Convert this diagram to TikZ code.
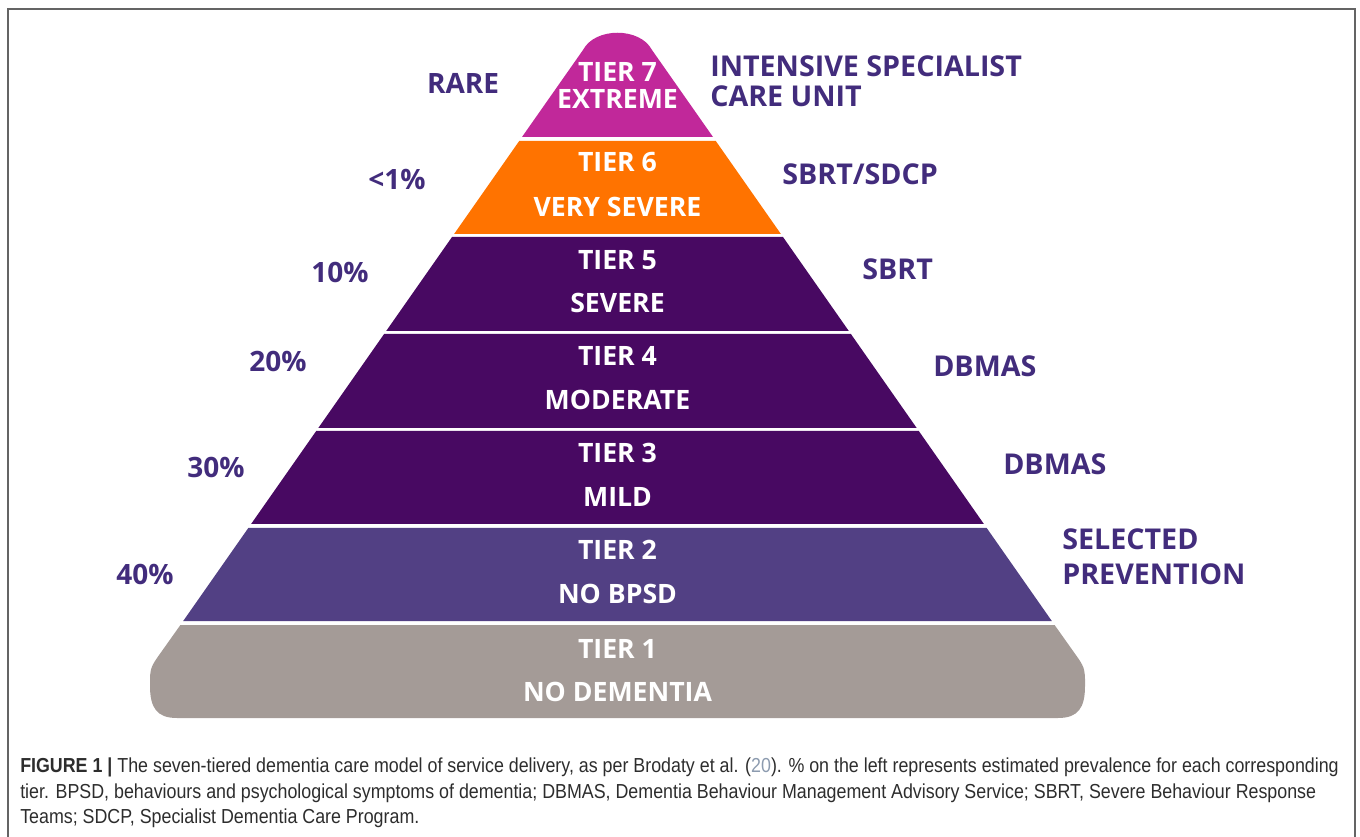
\documentclass[tikz,border=0pt]{standalone}
\usepackage{fontspec}
\setmainfont{Open Sans}
\newfontfamily\capfont[FakeStretch=0.88]{Liberation Sans}
\definecolor{tierseven}{RGB}{193,40,154}
\definecolor{tiersix}{RGB}{255,115,0}
\definecolor{tierdark}{RGB}{72,9,98}
\definecolor{tiertwo}{RGB}{82,64,132}
\definecolor{tierone}{RGB}{164,155,151}
\definecolor{sidetext}{RGB}{66,44,124}
\definecolor{captext}{RGB}{45,45,45}
\definecolor{citelink}{RGB}{140,155,175}
\begin{document}
\begin{tikzpicture}[x=0.75pt,y=0.75pt,yscale=-1,xscale=1,
  tierlabel/.style={anchor=base,inner sep=0pt,text=white,font=\bfseries\fontsize{20}{24}\selectfont},
  prevlabel/.style={anchor=base,inner sep=0pt,text=sidetext,font=\bfseries\fontsize{21}{25}\selectfont},
  servlabel/.style={anchor=base west,inner sep=0pt,text=sidetext,font=\bfseries\fontsize{21.5}{25}\selectfont},
  capline/.style={anchor=base west,inner sep=0pt,text=captext,font=\capfont\fontsize{15.2}{18}\selectfont}]
\useasboundingbox (0,0) rectangle (1360,837);
% frame
\draw [color={rgb, 255:red, 100; green, 100; blue, 100 },line width=1.5pt] (8,850) -- (8,9) -- (1355,9) -- (1355,850);
% tiers
\fill [tierseven] (522,137) -- (583,50) .. controls (595,27) and (640,27) .. (652,50) -- (713,137) -- cycle ;
\fill [tiersix] (519.2,141) -- (715.8,141) -- (780.9,234) -- (454.1,234) -- cycle ;
\fill [tierdark] (452,237) -- (783,237) -- (848.8,331) -- (386.2,331) -- cycle ;
\fill [tierdark] (384.1,334) -- (850.9,334) -- (916.7,428) -- (318.3,428) -- cycle ;
\fill [tierdark] (316.2,431) -- (918.8,431) -- (983.9,524) -- (251.1,524) -- cycle ;
\fill [tiertwo] (248.3,528) -- (986.7,528) -- (1051.8,621) -- (183.2,621) -- cycle ;
\fill [tierone] (180.4,625) -- (1054.6,625) -- (1078,658) .. controls (1085,668) and (1085,672) .. (1085,682) -- (1085,686) .. controls (1085,708) and (1078,718) .. (1058,718) -- (177,718) .. controls (157,718) and (150,708) .. (150,686) -- (150,682) .. controls (150,672) and (150,668) .. (157,658) -- cycle ;
% tier texts
\node [tierlabel] (t7a) at (617.5,82) {TIER 7};
\node [tierlabel] (t7b) at (617.5,109) {EXTREME};
\node [tierlabel] (t6a) at (617.5,172) {TIER 6};
\node [tierlabel] (t6b) at (617.5,217) {VERY SEVERE};
\node [tierlabel] (t5a) at (617.5,270) {TIER 5};
\node [tierlabel] (t5b) at (617.5,313) {SEVERE};
\node [tierlabel] (t4a) at (617.5,366) {TIER 4};
\node [tierlabel] (t4b) at (617.5,410) {MODERATE};
\node [tierlabel] (t3a) at (617.5,463) {TIER 3};
\node [tierlabel] (t3b) at (617.5,507) {MILD};
\node [tierlabel] (t2a) at (617.5,560) {TIER 2};
\node [tierlabel] (t2b) at (617.5,603) {NO BPSD};
\node [tierlabel] (t1a) at (617.5,658) {TIER 1};
\node [tierlabel] (t1b) at (617.5,701) {NO DEMENTIA};
% prevalence
\node [prevlabel] (p7) at (463,94) {RARE};
\node [prevlabel] (p6) at (397,190) {<1\%};
\node [prevlabel] (p5) at (340,283) {10\%};
\node [prevlabel] (p4) at (278,372) {20\%};
\node [prevlabel] (p3) at (216,478) {30\%};
\node [prevlabel] (p2) at (145,584) {40\%};
% services
\node [servlabel] (s7a) at (710,77) {INTENSIVE SPECIALIST};
\node [servlabel] (s7b) at (710,107) {CARE UNIT};
\node [servlabel] (s6) at (782,185) {SBRT/SDCP};
\node [servlabel] (s5) at (862,280) {SBRT};
\node [servlabel] (s4) at (933,377) {DBMAS};
\node [servlabel] (s3) at (1003,475) {DBMAS};
\node [servlabel] (s2a) at (1062,550) {SELECTED};
\node [servlabel] (s2b) at (1062,585) {PREVENTION};
% caption
\node [capline] (cap1) at (20,772) {\textbf{FIGURE 1 |} The seven-tiered dementia care model of service delivery, as per Brodaty et al. ({\color{citelink}20}). \% on the left represents estimated prevalence for each corresponding};
\node [capline] (cap2) at (20,798) {tier. BPSD, behaviours and psychological symptoms of dementia; DBMAS, Dementia Behaviour Management Advisory Service; SBRT, Severe Behaviour Response};
\node [capline] (cap3) at (20,823) {Teams; SDCP, Specialist Dementia Care Program.};
\end{tikzpicture}
\end{document}
